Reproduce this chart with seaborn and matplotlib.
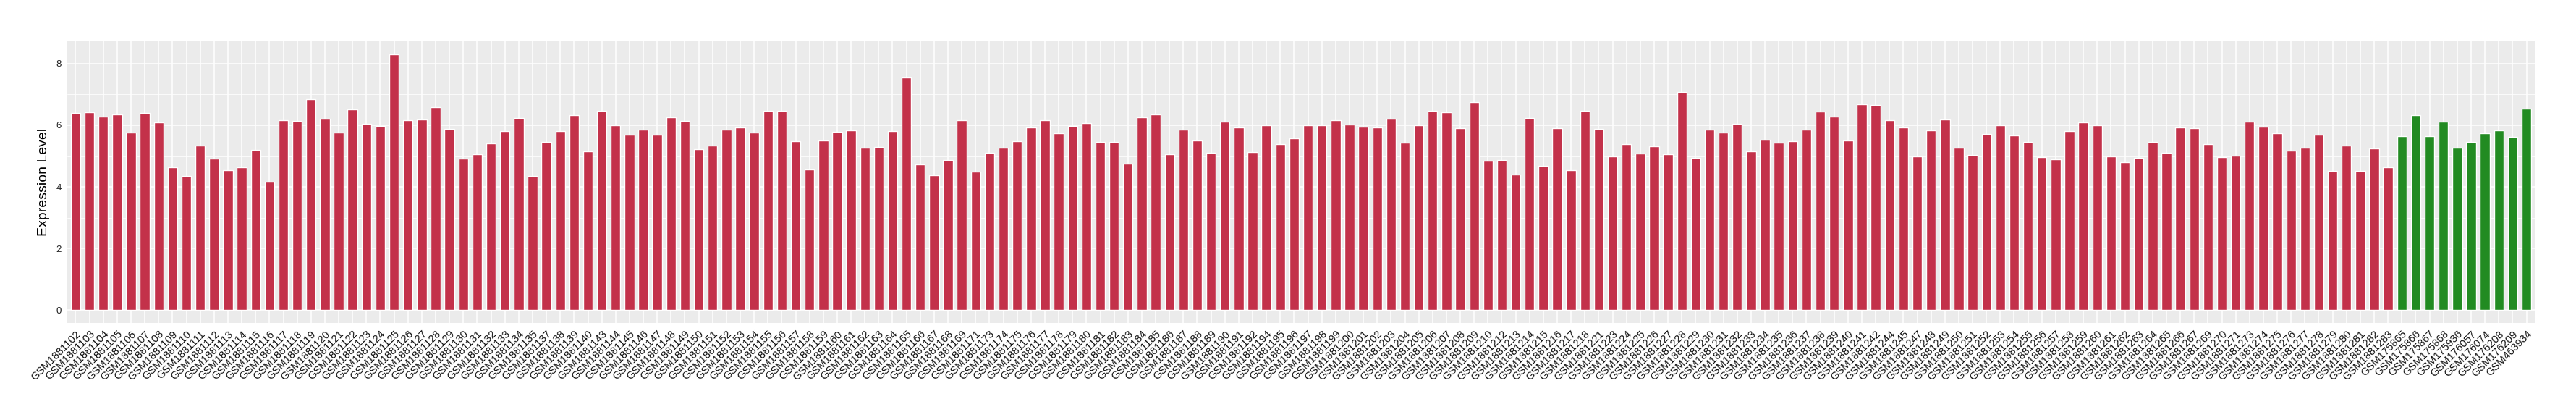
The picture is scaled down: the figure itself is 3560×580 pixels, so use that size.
import numpy as np
import pandas as pd
import matplotlib
matplotlib.use("Agg")
import matplotlib.pyplot as plt
import seaborn as sns

# sample ids (GSM1881xxx tumour samples, then the normal samples)
tumour_ids = [102, 103, 104, 105, 106, 107, 108, 109, 110, 111, 112, 113, 114, 115,
              116, 117, 118, 119, 120, 121, 122, 123, 124, 125, 126, 127, 128, 129,
              130, 131, 132, 133, 134, 135, 137, 138, 139, 140, 143, 144, 145, 146,
              147, 148, 149, 150, 151, 152, 153, 154, 155, 156, 157, 158, 159, 160,
              161, 162, 163, 164, 165, 166, 167, 168, 169, 171, 173, 174, 175, 176,
              177, 178, 179, 180, 181, 182, 183, 184, 185, 186, 187, 188, 189, 190,
              191, 192, 194, 195, 196, 197, 198, 199, 200, 201, 202, 203, 204, 205,
              206, 207, 208, 209, 210, 212, 213, 214, 215, 216, 217, 218, 221, 223,
              224, 225, 226, 227, 228, 229, 230, 231, 232, 233, 234, 235, 236, 237,
              238, 239, 240, 241, 242, 244, 245, 247, 248, 249, 250, 251, 252, 253,
              254, 255, 256, 257, 258, 259, 260, 261, 262, 263, 264, 265, 266, 267,
              269, 270, 271, 273, 274, 275, 276, 277, 278, 279, 280, 281, 282, 283]
tumour_samples = [f"GSM1881{i}" for i in tumour_ids]

tumour_values = [6.39, 6.42, 6.28, 6.35, 5.76, 6.39, 6.09, 4.64, 4.35, 5.34, 4.92, 4.55, 4.64, 5.19,
                 4.16, 6.16, 6.14, 6.84, 6.21, 5.76, 6.51, 6.04, 5.97, 8.31, 6.16, 6.18, 6.58, 5.88,
                 4.92, 5.06, 5.41, 5.81, 6.23, 4.35, 5.45, 5.81, 6.32, 5.15, 6.46, 5.99, 5.69, 5.85,
                 5.69, 6.25, 6.14, 5.22, 5.34, 5.85, 5.92, 5.76, 6.48, 6.48, 5.48, 4.56, 5.51, 5.78,
                 5.83, 5.26, 5.29, 5.81, 7.54, 4.73, 4.38, 4.87, 6.16, 4.49, 5.11, 5.26, 5.48, 5.92,
                 6.16, 5.74, 5.97, 6.06, 5.45, 5.45, 4.75, 6.25, 6.35, 5.06, 5.85, 5.51, 5.11, 6.11,
                 5.92, 5.13, 5.99, 5.39, 5.58, 5.99, 5.99, 6.16, 6.02, 5.95, 5.92, 6.21, 5.43, 5.99,
                 6.46, 6.42, 5.90, 6.74, 4.85, 4.87, 4.40, 6.23, 4.68, 5.90, 4.55, 6.48, 5.88, 4.99,
                 5.39, 5.08, 5.32, 5.06, 7.09, 4.94, 5.85, 5.76, 6.04, 5.15, 5.52, 5.43, 5.48, 5.85,
                 6.44, 6.28, 5.51, 6.69, 6.65, 6.16, 5.92, 4.99, 5.83, 6.18, 5.26, 5.03, 5.71, 5.99,
                 5.66, 5.45, 4.96, 4.89, 5.81, 6.09, 5.99, 4.99, 4.80, 4.94, 5.45, 5.11, 5.92, 5.90,
                 5.39, 4.96, 5.01, 6.11, 5.95, 5.74, 5.18, 5.26, 5.69, 4.52, 5.34, 4.52, 5.25, 4.64]

normal_samples = ["GSM175865", "GSM175866", "GSM175867", "GSM175868", "GSM175936",
                  "GSM176057", "GSM176074", "GSM176208", "GSM176209", "GSM463934"]
normal_values = [5.65, 6.32, 5.65, 6.11, 5.26, 5.45, 5.74, 5.83, 5.62, 6.53]

group_colors = {"Tumor": "#C3314A", "Normal": "#228B22"}

df = pd.DataFrame({
    "Sample": tumour_samples + normal_samples,
    "Expression": tumour_values + normal_values,
    "Group": ["Tumor"] * len(tumour_samples) + ["Normal"] * len(normal_samples),
})

sns.set_theme(style="darkgrid")
plt.rcParams["font.family"] = ["Liberation Sans", "DejaVu Sans"]

W, H = 3560, 580
fig = plt.figure(figsize=(W / 100, H / 100), dpi=100)
ax = fig.add_axes([93 / W, (H - 446) / H, 3410 / W, (446 - 57) / H])

sns.barplot(data=df, x="Sample", y="Expression", hue="Group", palette=group_colors,
            dodge=False, width=0.7, saturation=1, legend=False, ax=ax)

n = len(df)
ymax = df["Expression"].max()
ax.set_xlim(-0.6, n - 1 + 0.6)
ax.set_ylim(-0.05 * ymax, 1.05 * ymax)

# ggplot2 grey theme look
ax.set_facecolor("#EBEBEB")
for s in ax.spines.values():
    s.set_visible(False)
ax.set_yticks([0, 2, 4, 6, 8])
ax.set_yticks([1, 3, 5, 7], minor=True)
ax.grid(True, which="major", color="white", linewidth=1.1)
ax.grid(True, which="minor", axis="y", color="white", linewidth=0.55)
ax.set_axisbelow(True)

ax.tick_params(axis="both", which="major", length=3.8, width=0.8, color="#333333",
               direction="out", pad=2)
ax.tick_params(axis="y", which="minor", length=0)
ax.tick_params(axis="y", labelsize=9.5, labelcolor="#222222")
ax.tick_params(axis="x", labelsize=10.6, labelcolor="#111111")
plt.setp(ax.get_xticklabels(), rotation=45, ha="right", rotation_mode="anchor")

ax.set_xlabel("")
ax.set_ylabel("Expression Level", fontsize=14, color="black", labelpad=6)

fig.savefig("out.png", dpi=100, facecolor="white")
